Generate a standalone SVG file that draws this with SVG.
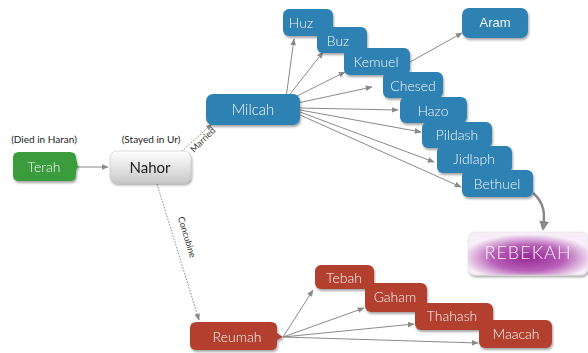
<svg xmlns="http://www.w3.org/2000/svg" width="588" height="353" viewBox="0 0 588 353">
<defs>
<style>
.lbl{font-family:"Lato","Open Sans",sans-serif;font-size:14px;font-weight:300;fill:#f4f4f4;text-anchor:middle;dominant-baseline:central}
.note{font-family:"Lato","Open Sans",sans-serif;font-size:10px;fill:#222;text-anchor:middle}
.blue{fill:#2f82b3}
.red{fill:#b3412e}
.green{fill:#3a9c3d}
.c{stroke:#8a8a8a;stroke-width:1;fill:none;marker-end:url(#ah)}
.d{stroke:#8a8a8a;stroke-width:1;fill:none;stroke-dasharray:1.5 1.5;marker-end:url(#ah)}
.ln{font-family:"Lato","Open Sans",sans-serif;font-size:9px;fill:#333;text-anchor:middle}
</style>
<marker id="ah" viewBox="0 0 10 10" refX="9" refY="5" markerWidth="7" markerHeight="7" orient="auto" markerUnits="userSpaceOnUse"><path d="M0,1 L10,5 L0,9 z" fill="#8a8a8a"/></marker>
<marker id="ahb" viewBox="0 0 10 10" refX="8" refY="5" markerWidth="4" markerHeight="4" orient="auto"><path d="M0,0 L10,5 L0,10 z" fill="#8a8a8a"/></marker>
<linearGradient id="gray" x1="0" y1="0" x2="0" y2="1"><stop offset="0" stop-color="#ffffff"/><stop offset="1" stop-color="#c9c9c9"/></linearGradient>
<radialGradient id="purp" cx="0.5" cy="0.6" r="0.55"><stop offset="0" stop-color="#962896"/><stop offset="0.55" stop-color="#b860b8"/><stop offset="1" stop-color="#f7eef7"/></radialGradient>
<filter id="sh" x="-10%" y="-10%" width="125%" height="140%"><feDropShadow dx="1" dy="2" stdDeviation="1.2" flood-color="#000" flood-opacity="0.35"/></filter>
</defs>
<rect width="588" height="353" fill="#fff"/>
<g id="connectors">
<line class="c" x1="77" y1="167" x2="108" y2="167"/>
<line class="d" x1="182" y1="151" x2="212" y2="124"/>
<text class="ln" transform="translate(205,142) rotate(-45)">Married</text>
<line class="d" x1="157" y1="184" x2="199" y2="320"/>
<text class="ln" transform="translate(184,238) rotate(73)">Concubine</text>
<line class="c" x1="286" y1="98" x2="294" y2="39"/>
<line class="c" x1="287" y1="98" x2="323" y2="52"/>
<line class="c" x1="289" y1="100" x2="345" y2="72"/>
<line class="c" x1="293" y1="104" x2="372" y2="87"/>
<line class="c" x1="300" y1="108" x2="398" y2="110"/>
<line class="c" x1="300" y1="110" x2="421" y2="132"/>
<line class="c" x1="300" y1="112" x2="434" y2="162"/>
<line class="c" x1="300" y1="115" x2="461" y2="187"/>
<line class="c" x1="410" y1="62" x2="462" y2="33"/>
<path d="M533,193 C545,203 545,215 543,229" stroke="#8a8a8a" stroke-width="2.5" fill="none" marker-end="url(#ahb)"/>
<line class="c" x1="283" y1="337" x2="313" y2="290"/>
<line class="c" x1="283" y1="337" x2="364" y2="308"/>
<line class="c" x1="283" y1="337" x2="414" y2="324"/>
<line class="c" x1="283" y1="337" x2="478" y2="343"/>
</g>
<g id="terah" filter="url(#sh)"><path class="green" d="M19,152 H70 Q76,152 76,158 L78,167 L76,170 V175 Q76,181 70,181 H19 Q13,181 13,175 V158 Q13,152 19,152 Z"/><text class="lbl" x="44" y="166">Terah</text></g>
<text class="note" x="44" y="143">(Died in Haran)</text>
<g id="nahor" filter="url(#sh)"><rect x="110" y="151" width="81" height="32" rx="7" fill="url(#gray)" stroke="#bbb" stroke-width="0.5"/><text class="lbl" x="150" y="167" style="fill:#222;font-size:15px;font-weight:400">Nahor</text></g>
<text class="note" x="151" y="143">(Stayed in Ur)</text>
<g id="milcah" filter="url(#sh)"><rect class="blue" x="206" y="94" width="94" height="31" rx="7"/><text class="lbl" x="253" y="109" style="font-size:15px">Milcah</text></g>
<g id="huz" filter="url(#sh)"><rect class="blue" x="283" y="9" width="50" height="27" rx="6"/><text class="lbl" x="301" y="22">Huz</text></g>
<g id="buz" filter="url(#sh)"><rect class="blue" x="317" y="27" width="50" height="26" rx="6"/><text class="lbl" x="338" y="40">Buz</text></g>
<g id="kemuel" filter="url(#sh)"><rect class="blue" x="344" y="48" width="66" height="27" rx="6"/><text class="lbl" x="376" y="61">Kemuel</text></g>
<g id="chesed" filter="url(#sh)"><rect class="blue" x="383" y="72" width="60" height="26" rx="6"/><text class="lbl" x="413" y="85">Chesed</text></g>
<g id="hazo" filter="url(#sh)"><rect class="blue" x="400" y="97" width="67" height="26" rx="6"/><text class="lbl" x="433" y="110">Hazo</text></g>
<g id="pildash" filter="url(#sh)"><rect class="blue" x="422" y="122" width="70" height="26" rx="6"/><text class="lbl" x="457" y="134">Pildash</text></g>
<g id="jidlaph" filter="url(#sh)"><rect class="blue" x="437" y="146" width="75" height="27" rx="6"/><text class="lbl" x="474" y="158">Jidlaph</text></g>
<g id="bethuel" filter="url(#sh)"><rect class="blue" x="462" y="170" width="71" height="27" rx="6"/><text class="lbl" x="497" y="183">Bethuel</text></g>
<g id="aram" filter="url(#sh)"><rect class="blue" x="462" y="8" width="66" height="30" rx="7"/><text class="lbl" x="495" y="22" style="font-family:'Liberation Sans',Arial,sans-serif;font-weight:400;font-size:13px">Aram</text></g>
<g id="rebekah" filter="url(#sh)"><rect x="468" y="232" width="120" height="43" rx="7" fill="url(#purp)" stroke="#ddd" stroke-width="0.5"/><text class="lbl" x="528" y="252" style="font-size:18px;letter-spacing:1px">REBEKAH</text></g>
<g id="reumah" filter="url(#sh)"><path class="red" d="M197,322 H271 Q277,322 277,328 V333 L283,337 L277,340 V344 Q277,350 271,350 H197 Q190,350 190,344 V328 Q190,322 197,322 Z"/><text class="lbl" x="237" y="336">Reumah</text></g>
<g id="tebah" filter="url(#sh)"><rect class="red" x="315" y="265" width="59" height="24" rx="6"/><text class="lbl" x="344" y="277">Tebah</text></g>
<g id="gaham" filter="url(#sh)"><rect class="red" x="365" y="283" width="62" height="29" rx="6"/><text class="lbl" x="395" y="296">Gaham</text></g>
<g id="thahash" filter="url(#sh)"><rect class="red" x="415" y="303" width="78" height="27" rx="6"/><text class="lbl" x="452" y="315">Thahash</text></g>
<g id="maacah" filter="url(#sh)"><rect class="red" x="479" y="320" width="73" height="28" rx="6"/><text class="lbl" x="516" y="333">Maacah</text></g>
</svg>
